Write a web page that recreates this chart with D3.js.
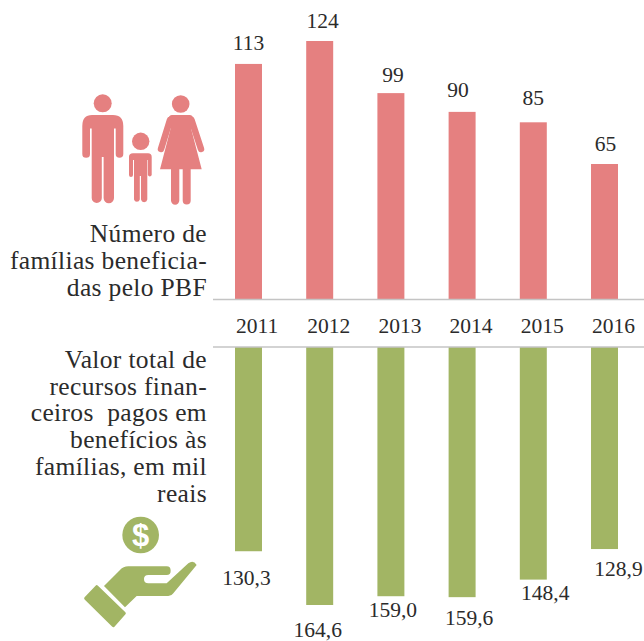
<!DOCTYPE html>
<html>
<meta charset="utf-8">
<head>
<style>

body {
  background-color: #fff;
  padding:0; margin:0;
  overflow: hidden;
}

svg {
  display: block;
}

text {
  font-family: "Liberation Serif", serif;
  font-size: 21.5px;
  fill: #2b2b2b;
}

.title {
  font-size: 25.5px;
  letter-spacing: 0.35px;
}

</style>
</head>

<body>
<svg></svg>
<script src="https://d3js.org/d3.v7.min.js"></script>
<script>

var years = ["2011", "2012", "2013", "2014", "2015", "2016"];
var familias = [113, 124, 99, 90, 85, 65];
var recursos = [130.3, 164.6, 159.0, 159.6, 148.4, 128.9];

var familiasTitle = ["Número de", "famílias beneficia-", "das pelo PBF"];
var recursosTitle = ["Valor total de", "recursos finan-", "ceiros  pagos em", "benefícios às", "famílias, em mil", "reais"];

// label nudges, the original labels were placed by hand
var topNudge = [[0, -14], [3, -13], [2, -11], [-4, -15], [0, -17], [1, -13]];
var bottomNudge = [[-2, 34], [-2, 32], [2, 21], [7, 28], [12, 20], [14, 27]];

var pink = "#e58080", green = "#a2b564";
var width = 644, height = 641;

var svg = d3.select("svg")
  .attr("width", width)
  .attr("height", height);

var x = d3.scaleBand()
  .domain(years)
  .range([235, 618])
  .paddingInner(0.621)
  .paddingOuter(0);

var yTop = d3.scaleLinear().domain([0, 124]).range([299.5, 41]);
var yBottom = d3.scaleLinear().domain([0, 164.6]).range([347, 605]);

var comma = function(d) { return d.toFixed(1).replace(".", ","); };

// upper bars
svg.append("g").selectAll("rect")
  .data(familias)
  .enter().append("rect")
    .attr("x", function(d, i) { return x(years[i]); })
    .attr("y", function(d) { return yTop(d); })
    .attr("width", x.bandwidth())
    .attr("height", function(d) { return yTop(0) - yTop(d); })
    .attr("fill", pink);

// lower bars
svg.append("g").selectAll("rect")
  .data(recursos)
  .enter().append("rect")
    .attr("x", function(d, i) { return x(years[i]); })
    .attr("y", yBottom(0))
    .attr("width", x.bandwidth())
    .attr("height", function(d) { return yBottom(d) - yBottom(0); })
    .attr("fill", green);

// the two rules
svg.append("g").selectAll("line")
  .data([yTop(0), yBottom(0)])
  .enter().append("line")
    .attr("x1", 213)
    .attr("x2", width)
    .attr("y1", function(d) { return d; })
    .attr("y2", function(d) { return d; })
    .attr("stroke", "#c4c4c4")
    .attr("stroke-width", 1.5);

// years between the charts, they start at the left edge of the bar
var axis = svg.append("g")
  .attr("transform", "translate(0,316)")
  .call(d3.axisBottom(x).tickSize(0).tickPadding(0));
axis.select(".domain").remove();
axis.selectAll("text")
  .attr("text-anchor", "start")
  .attr("x", -x.bandwidth() / 2 + 1)
  .attr("dy", "0.35em")
  .attr("y", 9);
axis.attr("font-family", null).attr("font-size", null);

// value labels
svg.append("g").selectAll("text")
  .data(familias)
  .enter().append("text")
    .attr("text-anchor", "middle")
    .attr("x", function(d, i) { return x(years[i]) + x.bandwidth() / 2 + topNudge[i][0]; })
    .attr("y", function(d, i) { return yTop(d) + topNudge[i][1]; })
    .text(function(d) { return d; });

svg.append("g").selectAll("text")
  .data(recursos)
  .enter().append("text")
    .attr("text-anchor", "middle")
    .attr("x", function(d, i) { return x(years[i]) + x.bandwidth() / 2 + bottomNudge[i][0]; })
    .attr("y", function(d, i) { return yBottom(d) + bottomNudge[i][1]; })
    .text(comma);

// side titles
svg.append("g").selectAll("text")
  .data(familiasTitle)
  .enter().append("text")
    .attr("class", "title")
    .attr("text-anchor", "end")
    .attr("x", 207)
    .attr("y", function(d, i) { return 242 + i * 27; })
    .text(function(d) { return d; });

svg.append("g").selectAll("text")
  .data(recursosTitle)
  .enter().append("text")
    .attr("class", "title")
    .attr("text-anchor", "end")
    .style("white-space", "pre")
    .attr("x", 207)
    .attr("y", function(d, i) { return 368 + i * 26.7; })
    .text(function(d) { return d; });

// family icon
var family = svg.append("g").attr("fill", pink);
family.selectAll("circle")
  .data([[102.7, 103.3, 9], [140.7, 141.3, 8.7], [180.7, 104, 8.8]])
  .enter().append("circle")
    .attr("cx", function(d) { return d[0]; })
    .attr("cy", function(d) { return d[1]; })
    .attr("r", function(d) { return d[2]; });
// man
family.append("path").attr("d", "M92,115 H113 Q123.3,115 123.3,126 V154 A3.8,3.8 0 0 1 115.7,154 V128.5 H114 V198 A5.2,5.2 0 0 1 103.6,198 V157 H101.8 V198 A5,5 0 0 1 91.7,198 V128.5 H90 V154 A3.8,3.8 0 0 1 82.3,154 V126 Q82.3,115 92,115 Z");
// child
family.append("path").attr("d", "M133,153.3 H148 Q151.7,153.3 151.7,157 V175 A2,2 0 0 1 147.9,175 V160 H147.3 V199.5 A3.2,3.2 0 0 1 141,199.5 V176 H139.8 V199.5 A3,3 0 0 1 134,199.5 V160 H133 V175 A2,2 0 0 1 129,175 V157 Q129,153.3 133,153.3 Z");
// woman
family.append("path").attr("d", "M172,115 H189.5 Q193,115 194,120 L191,128.3 L201.7,169.3 H190.7 V200.5 A4,4 0 0 1 182.7,200.5 V169.3 H179.3 V200.5 A4.1,4.1 0 0 1 171,200.5 V169.3 H160 L170.7,128.3 L167.5,120 Q169,115 172,115 Z");
family.selectAll("line")
  .data([[170, 120, 161, 149], [191.5, 120, 201, 149]])
  .enter().append("line")
    .attr("x1", function(d) { return d[0]; })
    .attr("y1", function(d) { return d[1]; })
    .attr("x2", function(d) { return d[2]; })
    .attr("y2", function(d) { return d[3]; })
    .attr("stroke", pink)
    .attr("stroke-width", 6.5)
    .attr("stroke-linecap", "round");

// coin and hand icon, drawn in the coordinates of a 3x crop
var hand = svg.append("g")
  .attr("transform", "translate(70,500) scale(0.3333)")
  .attr("fill", green);
hand.append("circle").attr("cx", 212).attr("cy", 105).attr("r", 55);
hand.append("path").attr("d", "M102,258 L150,210 Q160,199 175,199 L290,199 Q302,199 302,212 Q302,225 290,225 L235,225 Q222,225 222,237 Q222,250 235,250 L290,250 L355,190 Q370,178 380,195 L310,280 Q305,288 295,288 L200,288 L165,322 Z");
hand.append("path")
  .attr("d", "M80,260 L163,340 L130,377 L47,295 Z")
  .attr("stroke", green)
  .attr("stroke-width", 9)
  .attr("stroke-linejoin", "round");

svg.append("text")
  .attr("x", 140.7)
  .attr("y", 546)
  .attr("text-anchor", "middle")
  .style("font-family", "'Liberation Sans', sans-serif")
  .style("font-weight", "bold")
  .style("font-size", "31px")
  .style("fill", "#fff")
  .text("$");

</script>
</body>
</html>
